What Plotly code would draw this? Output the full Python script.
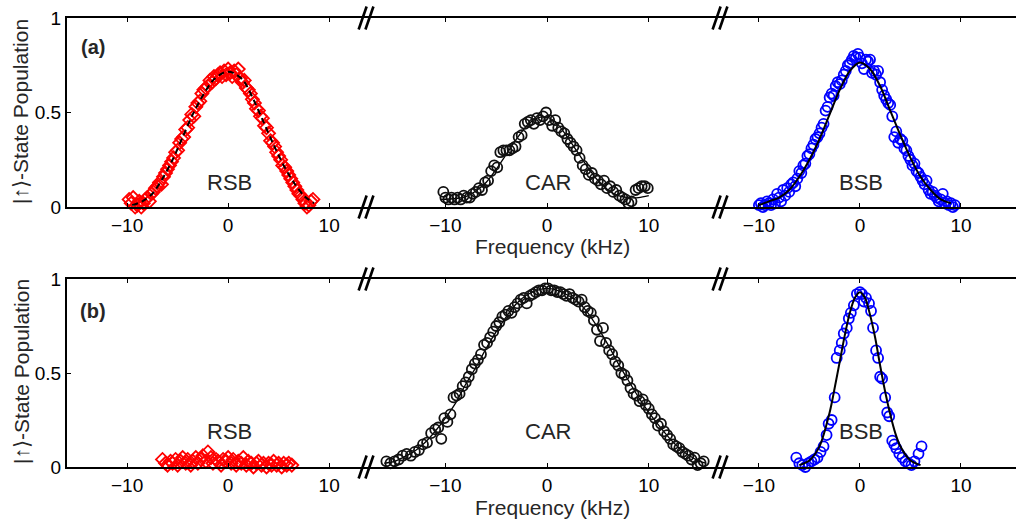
import plotly.graph_objects as go
from plotly.subplots import make_subplots

# ---------------- data (frequency in kHz, |up>-state population) ----------------
# Panel (a)
rsb_a_x = [-9.8, -9.6, -9.4, -9.2, -9.0, -8.8, -8.6, -8.4, -8.2, -8.0, -7.8, -7.6, -7.4, -7.2, -7.0,
           -6.8, -6.6, -6.4, -6.2, -6.0, -5.8, -5.6, -5.4, -5.2, -5.0, -4.8, -4.6, -4.4, -4.2, -4.0,
           -3.8, -3.6, -3.4, -3.2, -3.0, -2.8, -2.6, -2.4, -2.2, -2.0, -1.8, -1.6, -1.4, -1.2, -1.0,
           -0.8, -0.6, -0.4, -0.2, 0.0, 0.2, 0.4, 0.6, 0.8, 1.0, 1.2, 1.4, 1.6, 1.8, 2.0,
           2.2, 2.4, 2.6, 2.8, 3.0, 3.2, 3.4, 3.6, 3.8, 4.0, 4.2, 4.4, 4.6, 4.8, 5.0,
           5.2, 5.4, 5.6, 5.8, 6.0, 6.2, 6.4, 6.6, 6.8, 7.0, 7.2, 7.4, 7.6, 7.8, 8.0, 8.2, 8.4]
rsb_a_y = [0.04, 0.02, 0.05, 0.00, 0.01, 0.03, 0.00, 0.02, 0.04, 0.05, 0.03, 0.07, 0.08, 0.10, 0.11,
           0.13, 0.12, 0.16, 0.18, 0.20, 0.22, 0.24, 0.26, 0.29, 0.30, 0.34, 0.36, 0.37, 0.41, 0.42,
           0.46, 0.49, 0.48, 0.53, 0.55, 0.56, 0.60, 0.62, 0.63, 0.64, 0.67, 0.66, 0.69, 0.68, 0.70,
           0.71, 0.69, 0.72, 0.70, 0.73, 0.71, 0.69, 0.72, 0.70, 0.73, 0.68, 0.66, 0.67, 0.63, 0.62,
           0.60, 0.57, 0.55, 0.52, 0.51, 0.48, 0.47, 0.43, 0.42, 0.39, 0.35, 0.34, 0.32, 0.29, 0.27,
           0.25, 0.22, 0.21, 0.19, 0.17, 0.15, 0.13, 0.11, 0.09, 0.07, 0.06, 0.04, 0.02, 0.00, 0.01, 0.03, 0.04]
rsb_a_fit_x = [-9.5, -8.5, -7.5, -6.5, -5.5, -4.5, -3.5, -2.5, -1.5, -0.5, 0.0, 0.5, 1.5, 2.5, 3.5,
               4.5, 5.5, 6.5, 7.5, 8.5]
rsb_a_fit_y = [0.01, 0.03, 0.07, 0.15, 0.25, 0.37, 0.49, 0.59, 0.67, 0.71, 0.715, 0.71, 0.67, 0.57, 0.45,
               0.33, 0.22, 0.13, 0.06, 0.02]

car_a_x = [-10.2, -10.0, -9.7, -9.4, -9.1, -8.8, -8.5, -8.2, -7.9, -7.6, -7.3, -7.0, -6.7, -6.4, -6.1,
           -5.8, -5.5, -5.2, -4.9, -4.6, -4.3, -4.0, -3.7, -3.4, -3.1, -2.8, -2.5, -2.2, -1.9, -1.6,
           -1.3, -1.0, -0.7, -0.4, -0.1, 0.2, 0.5, 0.8, 1.1, 1.4, 1.7, 2.0, 2.3, 2.6, 2.9,
           3.2, 3.5, 3.8, 4.1, 4.4, 4.7, 5.0, 5.3, 5.6, 5.9, 6.2, 6.5, 6.8, 7.1, 7.4,
           7.7, 8.0, 8.3, 8.7, 9.0, 9.3, 9.6, 9.9]
car_a_y = [0.08, 0.05, 0.04, 0.05, 0.04, 0.05, 0.04, 0.06, 0.05, 0.05, 0.07, 0.08, 0.10, 0.09, 0.13,
           0.14, 0.19, 0.22, 0.21, 0.29, 0.30, 0.30, 0.30, 0.31, 0.32, 0.37, 0.38, 0.44, 0.45, 0.46,
           0.44, 0.47, 0.46, 0.48, 0.50, 0.46, 0.43, 0.46, 0.42, 0.40, 0.39, 0.36, 0.34, 0.32, 0.30,
           0.26, 0.22, 0.20, 0.17, 0.18, 0.15, 0.14, 0.12, 0.14, 0.10, 0.11, 0.08, 0.09, 0.06, 0.05,
           0.04, 0.02, 0.03, 0.09, 0.10, 0.11, 0.11, 0.10]
car_a_fit_x = [-10.5, -9.0, -8.0, -7.0, -6.0, -5.0, -4.0, -3.0, -2.0, -1.0, 0.0, 1.0, 2.0, 3.0, 4.0,
               5.0, 6.0, 7.0, 8.0, 9.0, 10.0]
car_a_fit_y = [0.04, 0.045, 0.055, 0.085, 0.13, 0.20, 0.28, 0.36, 0.43, 0.47, 0.475, 0.44, 0.37, 0.29, 0.21,
               0.14, 0.09, 0.06, 0.05, 0.05, 0.06]

bsb_a_x = [-10.0, -9.8, -9.6, -9.4, -9.2, -9.0, -8.8, -8.6, -8.4, -8.2, -8.0, -7.8, -7.6, -7.4, -7.2,
           -7.0, -6.8, -6.6, -6.4, -6.2, -6.0, -5.8, -5.6, -5.4, -5.2, -5.0, -4.8, -4.6, -4.4, -4.2,
           -4.0, -3.8, -3.6, -3.4, -3.2, -3.0, -2.8, -2.6, -2.4, -2.2, -2.0, -1.8, -1.6, -1.4, -1.2,
           -1.0, -0.8, -0.6, -0.4, -0.2, 0.0, 0.2, 0.4, 0.6, 0.8, 1.0, 1.2, 1.4, 1.6, 1.8,
           2.0, 2.2, 2.4, 2.6, 2.8, 3.0, 3.2, 3.4, 3.6, 3.8, 4.0, 4.2, 4.4, 4.6, 4.8,
           5.0, 5.2, 5.4, 5.6, 5.8, 6.0, 6.2, 6.4, 6.6, 6.8, 7.0, 7.2, 7.4, 7.6, 7.8,
           8.0, 8.2, 8.4, 8.6, 8.8, 9.0, 9.2, 9.4]
bsb_a_y = [0.01, 0.02, 0.00, 0.01, 0.03, 0.02, 0.01, 0.04, 0.02, 0.07, 0.05, 0.03, 0.09, 0.06, 0.10,
           0.08, 0.12, 0.13, 0.11, 0.15, 0.19, 0.18, 0.22, 0.23, 0.27, 0.28, 0.31, 0.33, 0.36, 0.37,
           0.39, 0.42, 0.44, 0.51, 0.53, 0.58, 0.60, 0.59, 0.64, 0.66, 0.65, 0.67, 0.70, 0.72, 0.75,
           0.76, 0.78, 0.80, 0.79, 0.81, 0.79, 0.76, 0.73, 0.78, 0.77, 0.78, 0.71, 0.72, 0.70, 0.72,
           0.66, 0.62, 0.59, 0.57, 0.55, 0.54, 0.48, 0.37, 0.40, 0.34, 0.36, 0.35, 0.31, 0.30, 0.27,
           0.25, 0.22, 0.23, 0.19, 0.18, 0.16, 0.14, 0.12, 0.14, 0.09, 0.07, 0.08, 0.06, 0.05, 0.03,
           0.04, 0.07, 0.02, 0.03, 0.01, 0.02, 0.00, 0.01]
bsb_a_fit_x = [-10.0, -9.0, -8.0, -7.0, -6.0, -5.0, -4.0, -3.0, -2.0, -1.0, 0.0, 1.0, 2.0, 3.0, 4.0,
               5.0, 6.0, 7.0, 8.0, 9.0]
bsb_a_fit_y = [0.01, 0.03, 0.05, 0.09, 0.16, 0.25, 0.36, 0.49, 0.62, 0.72, 0.765, 0.73, 0.64, 0.51, 0.38,
               0.26, 0.16, 0.09, 0.04, 0.02]

# Panel (b)
rsb_b_x = [-6.5, -6.2, -6.0, -5.7, -5.5, -5.2, -5.0, -4.7, -4.5, -4.2, -4.0, -3.7, -3.5, -3.2, -3.0,
           -2.7, -2.5, -2.2, -2.0, -1.7, -1.5, -1.2, -1.0, -0.7, -0.5, -0.2, 0.0, 0.3, 0.5, 0.8,
           1.0, 1.3, 1.5, 1.8, 2.0, 2.3, 2.5, 2.8, 3.0, 3.3, 3.5, 3.8, 4.0, 4.3, 4.5,
           4.8, 5.0, 5.3, 5.5, 5.8, 6.0, 6.3]
rsb_b_y = [0.04, 0.02, 0.01, 0.03, 0.02, 0.04, 0.01, 0.03, 0.05, 0.02, 0.04, 0.01, 0.03, 0.05, 0.02,
           0.04, 0.06, 0.03, 0.08, 0.05, 0.02, 0.04, 0.03, 0.01, 0.04, 0.03, 0.05, 0.02, 0.04, 0.01,
           0.03, 0.02, 0.05, 0.01, 0.03, 0.02, 0.00, 0.02, 0.03, 0.01, 0.02, 0.00, 0.02, 0.01, 0.03,
           0.01, 0.02, 0.00, 0.02, 0.01, 0.02, 0.01]

car_b_x = [-15.8, -15.4, -15.0, -14.6, -14.2, -13.8, -13.4, -13.0, -12.6, -12.2, -11.8, -11.4, -11.0, -10.7, -10.4,
           -10.1, -9.8, -9.5, -9.2, -8.9, -8.6, -8.3, -8.0, -7.7, -7.4, -7.1, -6.8, -6.5, -6.2, -5.9,
           -5.6, -5.3, -5.0, -4.7, -4.4, -4.1, -3.8, -3.5, -3.2, -2.9, -2.6, -2.3, -2.0, -1.7, -1.4,
           -1.1, -0.8, -0.5, -0.2, 0.1, 0.4, 0.7, 1.0, 1.3, 1.6, 1.9, 2.2, 2.5, 2.8, 3.1,
           3.4, 3.7, 4.0, 4.3, 4.6, 4.9, 5.2, 5.5, 5.8, 6.1, 6.4, 6.7, 7.0, 7.3, 7.6,
           7.9, 8.2, 8.5, 8.8, 9.1, 9.4, 9.7, 10.0, 10.3, 10.6, 10.9, 11.2, 11.5, 11.8, 12.1,
           12.4, 12.7, 13.0, 13.3, 13.6, 13.9, 14.2, 14.5, 14.8, 15.1, 15.4]
car_b_y = [0.03, 0.02, 0.03, 0.04, 0.06, 0.07, 0.06, 0.08, 0.09, 0.12, 0.13, 0.18, 0.20, 0.21, 0.15,
           0.26, 0.24, 0.28, 0.37, 0.38, 0.39, 0.43, 0.45, 0.48, 0.52, 0.55, 0.57, 0.60, 0.65, 0.66,
           0.69, 0.72, 0.75, 0.77, 0.80, 0.81, 0.83, 0.82, 0.85, 0.87, 0.89, 0.90, 0.87, 0.91, 0.92,
           0.93, 0.94, 0.94, 0.95, 0.95, 0.94, 0.94, 0.93, 0.93, 0.92, 0.91, 0.92, 0.90, 0.89, 0.88,
           0.89, 0.85, 0.83, 0.82, 0.78, 0.73, 0.67, 0.74, 0.66, 0.62, 0.60, 0.56, 0.54, 0.50, 0.49,
           0.46, 0.42, 0.39, 0.38, 0.35, 0.36, 0.33, 0.31, 0.28, 0.26, 0.22, 0.23, 0.19, 0.17, 0.15,
           0.12, 0.11, 0.10, 0.08, 0.07, 0.06, 0.04, 0.05, 0.01, 0.02, 0.03]
car_b_fit_x = [-16.0, -15.0, -14.0, -13.0, -12.0, -11.0, -10.0, -9.0, -8.0, -7.0, -6.0, -5.0, -4.0, -3.0, -2.0,
               -1.0, 0.0, 1.0, 2.0, 3.0, 4.0, 5.0, 6.0, 7.0, 8.0, 9.0, 10.0, 11.0, 12.0, 13.0,
               14.0, 15.0, 15.6]
car_b_fit_y = [0.02, 0.03, 0.055, 0.085, 0.13, 0.19, 0.26, 0.34, 0.44, 0.53, 0.63, 0.72, 0.80, 0.87, 0.915,
               0.94, 0.95, 0.94, 0.915, 0.88, 0.82, 0.74, 0.65, 0.55, 0.46, 0.37, 0.29, 0.22, 0.155, 0.10,
               0.06, 0.03, 0.02]

bsb_b_x = [-6.3, -6.0, -5.7, -5.4, -5.1, -4.8, -4.5, -4.2, -3.9, -3.6, -3.3, -3.1, -2.8, -2.5, -2.3,
           -2.0, -1.8, -1.6, -1.3, -1.1, -0.9, -0.6, -0.3, 0.0, 0.2, 0.4, 0.6, 0.9, 1.1, 1.3,
           1.6, 1.8, 2.0, 2.2, 2.5, 2.7, 2.9, 3.2, 3.4, 3.6, 3.9, 4.2, 4.5, 4.8, 5.1,
           5.4, 5.8, 6.1]
bsb_b_y = [0.05, 0.02, 0.01, 0.00, 0.02, 0.03, 0.04, 0.05, 0.08, 0.11, 0.17, 0.23, 0.25, 0.37, 0.58,
           0.62, 0.66, 0.71, 0.74, 0.79, 0.82, 0.86, 0.92, 0.93, 0.92, 0.88, 0.90, 0.87, 0.83, 0.74,
           0.62, 0.58, 0.48, 0.47, 0.37, 0.29, 0.27, 0.14, 0.12, 0.10, 0.07, 0.05, 0.03, 0.02, 0.01,
           0.03, 0.07, 0.11]
bsb_b_fit_x = [-6.0, -5.0, -4.0, -3.0, -2.5, -2.0, -1.5, -1.0, -0.5, 0.0, 0.5, 1.0, 1.5, 2.0, 2.5,
               3.0, 3.5, 4.0, 5.0, 6.0]
bsb_b_fit_y = [0.01, 0.035, 0.11, 0.29, 0.42, 0.56, 0.70, 0.82, 0.90, 0.93, 0.90, 0.81, 0.69, 0.54, 0.40,
               0.28, 0.18, 0.11, 0.035, 0.01]

x_ticks = [-10, 0, 10]
y_ticks = [0, 0.5, 1]
y_tick_text = ["0", "0.5", "1"]
band_names = ["RSB", "CAR", "BSB"]
panel_tags = ["(a)", "(b)"]

RED = "#ff0000"
BLUE = "#0000ff"
BLACK = "#111111"
TEXT = "#262626"
FONT = "Liberation Sans, Arial, sans-serif"

fig = make_subplots(rows=2, cols=3, horizontal_spacing=0, vertical_spacing=0.1)

# segment x-ranges (kHz) for the broken frequency axis
x_ranges = [[-15.95, 13.65], [-17.8, 17.0], [-13.85, 15.45]]
col_domains = [[0.0, 0.3151], [0.3151, 0.6881], [0.6881, 1.0]]
row_domains = [[0.579, 1.0], [0.0, 0.4187]]


def add_points(x, y, row, col, symbol, color, size):
    fig.add_trace(go.Scatter(
        x=x, y=y, mode="markers", cliponaxis=False, showlegend=False,
        marker=dict(symbol=symbol, size=size, color=color, line=dict(color=color, width=1.8))),
        row=row, col=col)


def add_fit(x, y, row, col, dash="solid", width=2.0):
    fig.add_trace(go.Scatter(
        x=x, y=y, mode="lines", cliponaxis=False, showlegend=False,
        line=dict(color="black", width=width, dash=dash, shape="spline", smoothing=0.8)),
        row=row, col=col)


# row 1: panel (a)
add_points(rsb_a_x, rsb_a_y, 1, 1, "diamond-open", RED, 10)
add_fit(rsb_a_fit_x, rsb_a_fit_y, 1, 1, dash="6px,4px")
add_fit(car_a_fit_x, car_a_fit_y, 1, 2, width=1.3)
add_points(car_a_x, car_a_y, 1, 2, "circle-open", BLACK, 10)
add_points(bsb_a_x, bsb_a_y, 1, 3, "circle-open", BLUE, 10)
add_fit(bsb_a_fit_x, bsb_a_fit_y, 1, 3)

# row 2: panel (b)
add_points(rsb_b_x, rsb_b_y, 2, 1, "diamond-open", RED, 10)
add_fit(car_b_fit_x, car_b_fit_y, 2, 2, width=1.3)
add_points(car_b_x, car_b_y, 2, 2, "circle-open", BLACK, 10)
add_points(bsb_b_x, bsb_b_y, 2, 3, "circle-open", BLUE, 10)
add_fit(bsb_b_fit_x, bsb_b_fit_y, 2, 3)

for r in (1, 2):
    for c in (1, 2, 3):
        fig.update_xaxes(
            row=r, col=c, domain=col_domains[c - 1], range=x_ranges[c - 1],
            tickvals=x_ticks, ticks="inside", ticklen=4, tickwidth=1, tickcolor="black",
            showline=True, linecolor="black", linewidth=2, mirror="ticks",
            showgrid=False, zeroline=False,
            tickfont=dict(family=FONT, size=19, color="black"))
        if c == 1:
            fig.update_yaxes(
                row=r, col=c, domain=row_domains[r - 1], range=[0, 1],
                tickvals=y_ticks, ticktext=y_tick_text, ticks="inside", ticklen=4,
                tickcolor="black", showline=True, linecolor="black", linewidth=2,
                showgrid=False, zeroline=False,
                tickfont=dict(family=FONT, size=19, color="black"))
        else:
            fig.update_yaxes(row=r, col=c, domain=row_domains[r - 1], range=[0, 1],
                             visible=False, showgrid=False, zeroline=False)

annotations = []
# band names inside each segment
band_y = [0.13, 0.187]
for r in (1, 2):
    for c in (1, 2, 3):
        idx = (r - 1) * 3 + c
        suffix = "" if idx == 1 else str(idx)
        annotations.append(dict(
            text=band_names[c - 1], x=0.1, y=band_y[r - 1],
            xref="x" + suffix, yref="y" + suffix, showarrow=False,
            xanchor="center", yanchor="middle",
            font=dict(family=FONT, size=22, color=TEXT)))


def px_x(px):
    return (px - 67) / 949


def px_y(py):
    return (467 - py) / 449


# panel tags
for r, cy in ((1, 47), (2, 311)):
    annotations.append(dict(text="<b>" + panel_tags[r - 1] + "</b>", x=px_x(93), y=px_y(cy),
                            xref="paper", yref="paper", showarrow=False,
                            xanchor="center", yanchor="middle",
                            font=dict(family=FONT, size=20, color=TEXT)))

# frequency axis titles
for cy in (246.5, 508.0):
    annotations.append(dict(text="Frequency (kHz)", x=px_x(552), y=px_y(cy),
                            xref="paper", yref="paper", showarrow=False,
                            xanchor="center", yanchor="middle",
                            font=dict(family=FONT, size=21, color=TEXT)))

# population axis titles
for cy in (112, 372):
    annotations.append(dict(text="|↑⟩-State Population", x=px_x(21), y=px_y(cy),
                            xref="paper", yref="paper", showarrow=False, textangle=-90,
                            xanchor="center", yanchor="middle",
                            font=dict(family=FONT, size=21, color=TEXT)))

# "//" break marks on the broken frequency axis
shapes = []
for bx in (col_domains[0][1], col_domains[1][1]):
    for by in (row_domains[0][0], row_domains[0][1], row_domains[1][0], row_domains[1][1]):
        for off in (-3.4, 3.4):
            shapes.append(dict(
                type="line", xref="paper", yref="paper",
                xsizemode="pixel", ysizemode="pixel", xanchor=bx, yanchor=by,
                x0=off - 4, y0=-11.5, x1=off + 4, y1=11.5,
                line=dict(color="black", width=2.6)))

fig.update_layout(
    width=1016, height=527,
    margin=dict(l=67, r=0, t=18, b=60),
    paper_bgcolor="white", plot_bgcolor="white",
    annotations=annotations, shapes=shapes,
    font=dict(family=FONT, color="black"),
)

fig.write_html("out.html")
